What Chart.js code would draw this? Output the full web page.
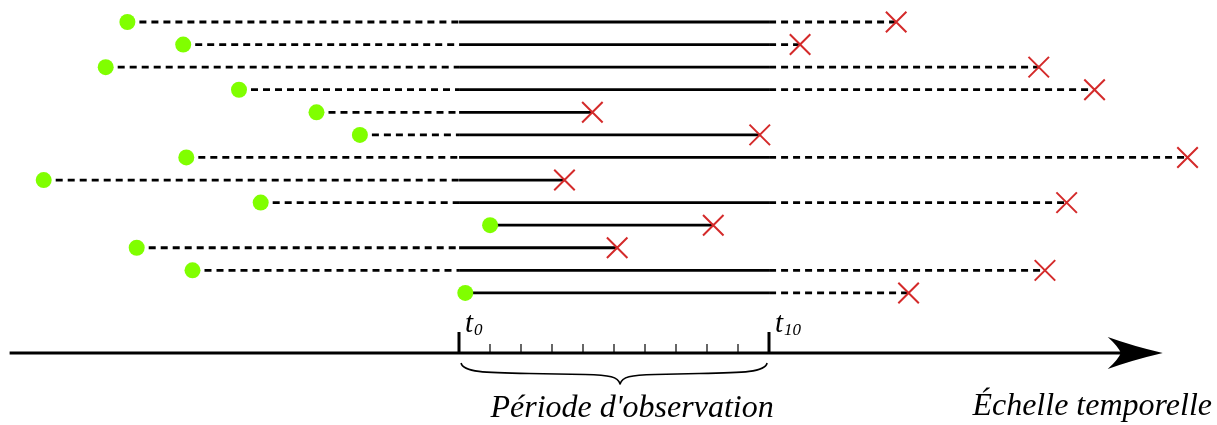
<!DOCTYPE html>
<html>
<head>
<meta charset="utf-8">
<script src="https://cdn.jsdelivr.net/npm/chart.js@4/dist/chart.umd.min.js"></script>
<style>
  html, body { margin: 0; padding: 0; background: #ffffff; }
  #wrap { width: 1217px; height: 425px; position: relative; }
</style>
</head>
<body>
<div id="wrap"><canvas id="c"></canvas></div>
<script>
// ---- Data (time in units of observation ticks; t0 = 0, t10 = 10) ----
const individuals = ['1','2','3','4','5','6','7','8','9','10','11','12','13'];
const entryTimes = [-10.7, -8.9, -11.4, -7.1, -4.6, -3.2, -8.8, -13.4, -6.4, 1.0, -10.4, -8.6, 0.2];
const exitTimes  = [14.1, 11.0, 18.7, 20.5, 4.3, 9.7, 23.5, 3.4, 19.6, 8.2, 5.1, 18.9, 14.5];
const periodStart = 0;
const periodEnd = 10;
const tickValues = [0,1,2,3,4,5,6,7,8,9,10];
const tickLabels = { 0: ['t', '0'], 10: ['t', '10'] };
const periodLabel = 'Période d\'observation';
const axisLabel = 'Échelle temporelle';
const axisRange = [-14.5, 22.7];   // extent of the time arrow
const axisRow = 15.66;             // vertical position of the time arrow (row units)

const GREEN = '#80ff00';
const RED = '#d42a2a';
const SERIF = '"Liberation Serif", "DejaVu Serif", serif';

const datasets = individuals.map((name, i) => {
  const row = i + 1;
  const s = entryTimes[i], e = exitTimes[i];
  const pts = [{x: s, y: row}];
  if (s < periodStart && e > periodStart) pts.push({x: periodStart, y: row});
  if (e > periodEnd && s < periodEnd) pts.push({x: periodEnd, y: row});
  pts.push({x: e, y: row});
  const last = pts.length - 1;
  return {
    label: name,
    data: pts,
    showLine: true,
    borderColor: '#000000',
    borderWidth: 2.8,
    borderCapStyle: 'butt',
    segment: {
      borderDash: ctx => (ctx.p1.parsed.x <= periodStart || ctx.p0.parsed.x >= periodEnd) ? [7, 5] : []
    },
    pointStyle: pts.map((p, k) => k === last ? 'crossRot' : 'circle'),
    pointRadius: pts.map((p, k) => k === 0 ? 8 : (k === last ? 14.5 : 0)),
    pointBackgroundColor: pts.map((p, k) => k === 0 ? GREEN : RED),
    pointBorderColor: pts.map((p, k) => k === 0 ? GREEN : RED),
    pointBorderWidth: pts.map((p, k) => k === 0 ? 0 : 2),
    pointHoverRadius: 0
  };
});

const timeAxisPlugin = {
  id: 'timeAxis',
  afterDatasetsDraw(chart) {
    const ctx = chart.ctx;
    const xs = chart.scales.x, ys = chart.scales.y;
    const yA = ys.getPixelForValue(axisRow);
    const xL = xs.getPixelForValue(axisRange[0]);
    const xTip = xs.getPixelForValue(axisRange[1]);
    const x0 = xs.getPixelForValue(periodStart);
    const x1 = xs.getPixelForValue(periodEnd);
    ctx.save();
    // main axis line
    ctx.strokeStyle = '#000';
    ctx.lineWidth = 3;
    ctx.beginPath();
    ctx.moveTo(xL, yA);
    ctx.lineTo(xTip - 40, yA);
    ctx.stroke();
    // arrow head (stealth)
    ctx.fillStyle = '#000';
    ctx.beginPath();
    ctx.moveTo(xTip, yA);
    ctx.quadraticCurveTo(xTip - 30, yA - 7, xTip - 55, yA - 16);
    ctx.quadraticCurveTo(xTip - 44, yA - 6, xTip - 42, yA);
    ctx.quadraticCurveTo(xTip - 44, yA + 6, xTip - 55, yA + 16);
    ctx.quadraticCurveTo(xTip - 30, yA + 7, xTip, yA);
    ctx.closePath();
    ctx.fill();
    // ticks
    tickValues.forEach(v => {
      const px = Math.round(xs.getPixelForValue(v));
      const major = (v === periodStart || v === periodEnd);
      ctx.lineWidth = major ? 3 : 1.2;
      ctx.beginPath();
      ctx.moveTo(px, yA);
      ctx.lineTo(px, yA - (major ? 21 : 9));
      ctx.stroke();
      if (tickLabels[v]) {
        const [base, sub] = tickLabels[v];
        ctx.fillStyle = '#000';
        ctx.textAlign = 'left';
        ctx.textBaseline = 'alphabetic';
        ctx.font = 'italic 29px ' + SERIF;
        ctx.fillText(base, px + 6, yA - 21);
        const w = ctx.measureText(base).width;
        ctx.font = 'italic 17px ' + SERIF;
        ctx.fillText(sub, px + 6 + w + 1, yA - 18);
      }
    });
    // brace under the observation period
    const tip = (x0 + x1) / 2 + 6;
    const yT = yA + 10, yH = yA + 20, yB = yA + 31;
    ctx.lineWidth = 1.6;
    ctx.lineJoin = 'round';
    ctx.beginPath();
    ctx.moveTo(x0 + 2, yT);
    ctx.bezierCurveTo(x0 + 4, yH - 1, x0 + 25, yH, x0 + 70, yH + 0.5);
    ctx.lineTo(tip - 35, yH + 1.5);
    ctx.bezierCurveTo(tip - 10, yH + 2, tip - 2, yH + 4, tip, yB);
    ctx.bezierCurveTo(tip + 2, yH + 4, tip + 10, yH + 2, tip + 35, yH + 1.5);
    ctx.lineTo(x1 - 70, yH + 0.5);
    ctx.bezierCurveTo(x1 - 25, yH, x1 - 4, yH - 1, x1 - 2, yT);
    ctx.stroke();
    // labels
    ctx.fillStyle = '#000';
    ctx.font = 'italic 32px ' + SERIF;
    ctx.textAlign = 'center';
    ctx.textBaseline = 'alphabetic';
    ctx.fillText(periodLabel, (x0 + x1) / 2 + 18, yA + 64);
    ctx.textAlign = 'right';
    ctx.fillText(axisLabel, chart.width - 5, yA + 62);
    ctx.restore();
  }
};

new Chart(document.getElementById('c'), {
  type: 'scatter',
  data: { labels: individuals, datasets },
  options: {
    responsive: true,
    maintainAspectRatio: false,
    devicePixelRatio: 1,
    animation: false,
    events: [],
    layout: { padding: 0, autoPadding: false },
    plugins: { legend: { display: false }, tooltip: { enabled: false } },
    scales: {
      x: { type: 'linear', min: -14.81, max: 24.45, display: false },
      y: { type: 'linear', min: 0.026, max: 18.85, reverse: true, display: false }
    }
  },
  plugins: [timeAxisPlugin]
});
</script>
</body>
</html>
